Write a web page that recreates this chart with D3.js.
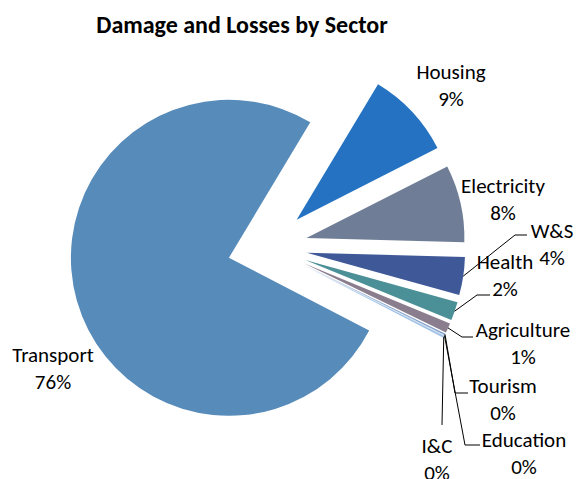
<!DOCTYPE html>
<html>
<head>
<meta charset="utf-8">
<script src="https://cdn.jsdelivr.net/npm/d3@7"></script>
<style>
    body { margin: 0; background: #fff; }
    text { font-family: Carlito, Lato, "Open Sans", sans-serif; fill: #000; }
</style>
</head>
<body>
<div class="chart-container"></div>
<script>
// data, clockwise from the first slice
const sectors = ["Housing", "Electricity", "W&S", "Health", "Agriculture", "Tourism", "Education", "I&C", "Transport"];
const shares = [8.9, 7.9, 3.9, 1.9, 1.0, 0.15, 0.05, 0.2, 76.0];
const shareLabels = ["9%", "8%", "4%", "2%", "1%", "0%", "0%", "0%", "76%"];

const colors = ["#2472C1", "#6F7E96", "#3F5898", "#4A9096", "#8A7D8E", "#7E9DC8", "#B0C4DC", "#A0C2E8", "#578BBA"];

// label placement (first line baseline, centred)
const labelAt = [[451, 79], [503, 193], [552, 238], [505, 269], [523, 337], [503, 393], [524, 447], [437, 453], [53, 362]];
// leader line bends, after the start on the slice edge
const leaderBends = [null, null, [[515, 235], [527, 235]], [[477, 295], [490, 295]], [[462, 337], [473, 337]],
    [[455, 393], [468, 393]], [[465, 445], [480, 445]], [[442, 425]], null];

const w = 576;
const h = 479;
const cx = 267.4;
const cy = 246.9;
const radius = 158;
const explode = 40;
const lineGap = 27;

const svg = d3.select(".chart-container")
    .append("svg")
    .attr("width", w)
    .attr("height", h);

svg.append("text")
    .attr("x", 242)
    .attr("y", 33)
    .attr("text-anchor", "middle")
    .style("font-size", "24px")
    .style("font-weight", "bold")
    .text("Damage and Losses by Sector");

const start = 31 * Math.PI / 180;
const pie = d3.pie()
    .sort(null)
    .value((d) => d)
    .startAngle(start)
    .endAngle(start + 2 * Math.PI);

const arcs = pie(shares);
const arc = d3.arc().innerRadius(0).outerRadius(radius);

const mid = (d) => (d.startAngle + d.endAngle) / 2;
const shift = (d) => [explode * Math.sin(mid(d)), -explode * Math.cos(mid(d))];

const g = svg.append("g").attr("transform", `translate(${cx},${cy})`);

g.selectAll("path")
    .data(arcs)
    .enter()
    .append("path")
    .attr("d", arc)
    .attr("fill", (d, i) => colors[i])
    .attr("transform", (d) => `translate(${shift(d)})`);

// leader lines
arcs.forEach((d, i) => {
    if (!leaderBends[i]) return;
    const [sx, sy] = shift(d);
    const a = mid(d);
    const p0 = [cx + sx + radius * Math.sin(a), cy + sy - radius * Math.cos(a)];
    svg.append("path")
        .attr("d", d3.line()([p0, ...leaderBends[i]]))
        .attr("fill", "none")
        .attr("stroke", "#000")
        .attr("stroke-width", 1);
});

// labels
sectors.forEach((name, i) => {
    const t = svg.append("text")
        .attr("text-anchor", "middle")
        .style("font-size", "21px");
    t.append("tspan").attr("x", labelAt[i][0]).attr("y", labelAt[i][1]).text(name);
    t.append("tspan").attr("x", labelAt[i][0]).attr("y", labelAt[i][1] + lineGap).text(shareLabels[i]);
});
</script>
</body>
</html>
